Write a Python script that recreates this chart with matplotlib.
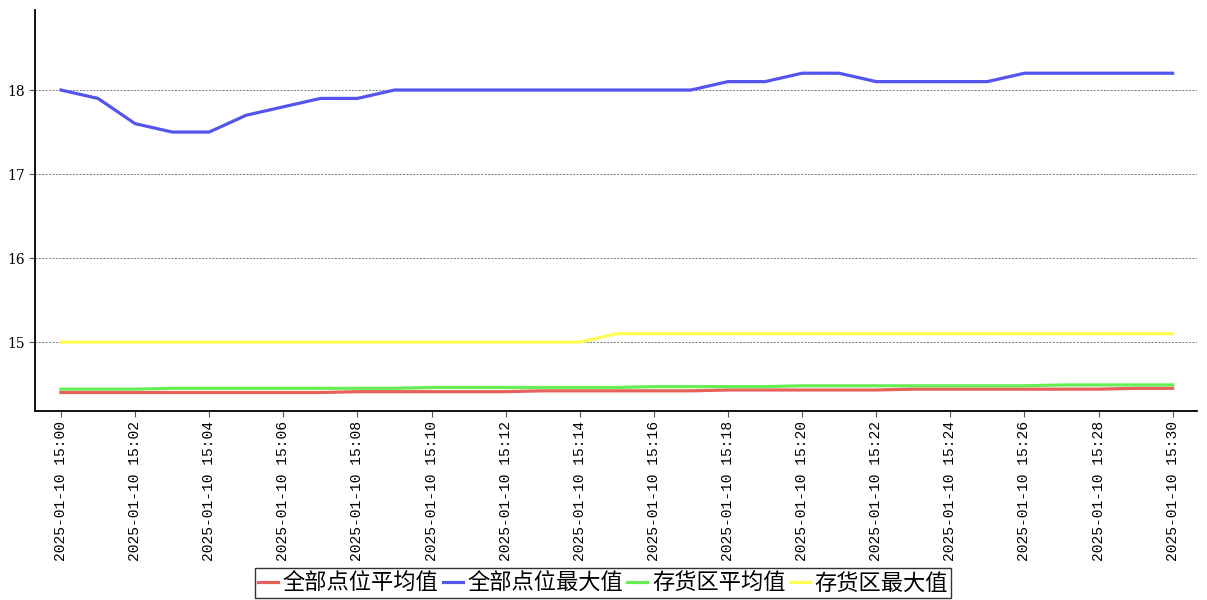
import matplotlib
matplotlib.use("Agg")
import matplotlib.pyplot as plt

plt.rcParams['font.family'] = ['Noto Sans CJK SC', 'DejaVu Sans']

times = ["2025-01-10 15:%02d" % m for m in range(31)]

avg_all = [14.40, 14.40, 14.40, 14.40, 14.40, 14.40, 14.40, 14.40, 14.41, 14.41,
           14.41, 14.41, 14.41, 14.42, 14.42, 14.42, 14.42, 14.42, 14.43, 14.43,
           14.43, 14.43, 14.43, 14.44, 14.44, 14.44, 14.44, 14.44, 14.44, 14.45,
           14.45]
max_all = [18.0, 17.9, 17.6, 17.5, 17.5, 17.7, 17.8, 17.9, 17.9, 18.0,
           18.0, 18.0, 18.0, 18.0, 18.0, 18.0, 18.0, 18.0, 18.1, 18.1,
           18.2, 18.2, 18.1, 18.1, 18.1, 18.1, 18.2, 18.2, 18.2, 18.2,
           18.2]
avg_store = [14.44, 14.44, 14.44, 14.45, 14.45, 14.45, 14.45, 14.45, 14.45, 14.45,
             14.46, 14.46, 14.46, 14.46, 14.46, 14.46, 14.47, 14.47, 14.47, 14.47,
             14.48, 14.48, 14.48, 14.48, 14.48, 14.48, 14.48, 14.49, 14.49, 14.49,
             14.49]
max_store = [15.0] * 15 + [15.1] * 16

series = [
    ("全部点位平均值", avg_all, "#e8605a"),
    ("全部点位最大值", max_all, "#5555ee"),
    ("存货区平均值", avg_store, "#66ee55"),
    ("存货区最大值", max_store, "#ffff55"),
]

fig = plt.figure(figsize=(12.07, 6.0), dpi=100)
ax = fig.add_axes([0.029, 0.315, 0.9625, 0.668])

x = list(range(len(times)))
for name, vals, col in series:
    ax.plot(x, vals, color=col, lw=2.3, label=name, solid_joinstyle='round')

ax.set_xlim(-0.7, 30.65)
ax.set_ylim(14.18, 18.95)
ax.set_yticks([15, 16, 17, 18])
ax.set_yticklabels(["15", "16", "17", "18"], family="DejaVu Serif", fontsize=10)
ax.set_xticks(x[::2])
ax.set_xticklabels(times[::2], rotation=90, family="Liberation Mono", fontsize=10.5)
ax.grid(axis='y', linestyle=(0, (2, 1.5)), color='#777777', lw=0.7)
ax.spines['top'].set_visible(False)
ax.spines['right'].set_visible(False)
ax.spines['left'].set_linewidth(1.3)
ax.spines['bottom'].set_linewidth(1.3)
ax.tick_params(axis='both', length=4, width=0.8, color='#555555')

leg = fig.legend(loc='lower center', bbox_to_anchor=(0.4995, 0.0), ncol=4,
                 fontsize=16, frameon=True, fancybox=False, edgecolor='black',
                 handlelength=0.9, handletextpad=0.2, columnspacing=0.2,
                 borderpad=0.15, borderaxespad=0.1)
leg.get_frame().set_linewidth(1.0)

fig.savefig("out.png", dpi=100)
